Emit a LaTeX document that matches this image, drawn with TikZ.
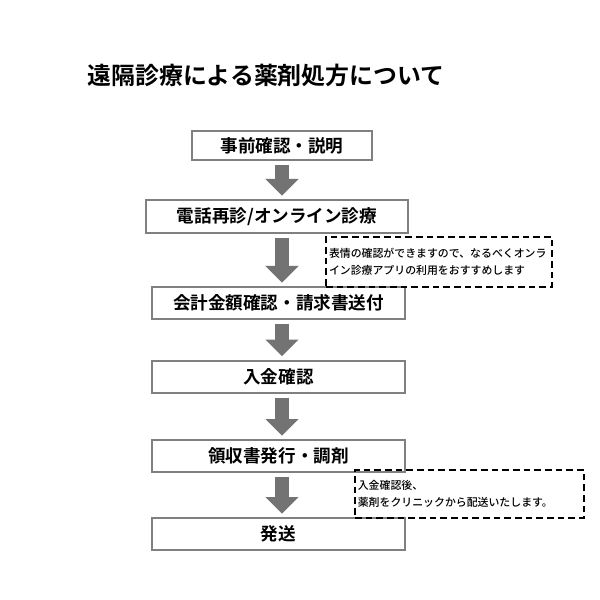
\documentclass[tikz,border=0pt]{standalone}
\usepackage{fontspec}
\newfontfamily\jp{Noto Sans CJK JP Medium}
\newfontfamily\jpb{Noto Sans CJK JP Bold}
\usetikzlibrary{arrows.meta}
\definecolor{boxgray}{rgb}{0.5,0.5,0.5}
\definecolor{arrgray}{rgb}{0.45,0.45,0.45}
\tikzset{
  stepbox/.style={draw=boxgray,line width=0.06cm,minimum height=0.96cm,font=\jpb\fontsize{15}{17}\selectfont,inner sep=0pt},
  flowarrow/.style={arrgray,line width=0.42cm,-{Triangle[width=0.96cm,length=0.5cm]},shorten <=0.12cm,shorten >=0.1cm},
  notebox/.style={draw,dashed,line width=0.05cm,dash pattern=on 0.2cm off 0.12cm,align=left,font=\jp\fontsize{9.3}{15}\selectfont,inner sep=0pt}
}
\begin{document}
\begin{tikzpicture}[x=0.03cm,y=-0.03cm]
  \useasboundingbox (0,0) rectangle (600,600);
  \node[font=\jpb\fontsize{20.4}{24}\selectfont] (title) at (266,75) {遠隔診療による薬剤処方について};
  \node[stepbox,minimum width=5.4cm,minimum height=0.87cm] (s1) at (282,145.5) {事前確認・説明};
  \node[stepbox,minimum width=7.86cm,minimum height=0.99cm] (s2) at (277,216.5) {電話再診/オンライン診療};
  \node[stepbox,minimum width=7.59cm] (s3) at (278.5,303) {会計金額確認・請求書送付};
  \node[stepbox,minimum width=7.59cm] (s4) at (278.5,376.5) {入金確認};
  \node[stepbox,minimum width=7.59cm] (s5) at (278.5,456) {領収書発行・調剤};
  \node[stepbox,minimum width=7.59cm] (s6) at (278.5,534) {発送};
  % arrows between steps
  \draw[flowarrow] (s1.south -| 282,0) -- (s2.north -| 282,0);
  \draw[flowarrow] (s2.south -| 282,0) -- (s3.north -| 282,0);
  \draw[flowarrow] (s3.south -| 282,0) -- (s4.north -| 282,0);
  \draw[flowarrow] (s4.south -| 282,0) -- (s5.north -| 282,0);
  \draw[flowarrow] (s5.south -| 282,0) -- (s6.north -| 282,0);
  % notes
  \node[notebox,minimum width=6.78cm,minimum height=1.5cm,text width=6.6cm] (n1) at (439,262) {表情の確認ができますので、なるべくオンラ\\イン診療アプリの利用をおすすめします};
  \node[notebox,minimum width=6.87cm,minimum height=1.44cm,text width=6.7cm] (n2) at (469.5,494) {入金確認後、\\薬剤をクリニックから配送いたします。};
\end{tikzpicture}
\end{document}
